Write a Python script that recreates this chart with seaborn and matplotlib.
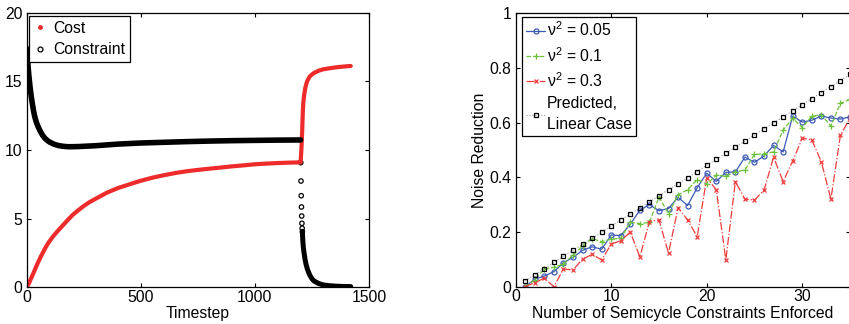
import pandas as pd
import seaborn as sns
import matplotlib.pyplot as plt
from matplotlib.lines import Line2D

# left panel: cost / constraint over timesteps
cost_t = [0, 10, 20, 30, 40, 50, 60, 70, 80, 90, 100, 120, 140, 160, 180, 200, 225, 250, 275, 300,
          350, 400, 450, 500, 550, 600, 650, 700, 750, 800, 850, 900, 950, 1000, 1050, 1100, 1150, 1200,
          1201, 1202, 1203, 1204, 1205, 1206, 1207, 1208, 1209, 1210,
          1212, 1215, 1220, 1225, 1230, 1240, 1250, 1260, 1280, 1300, 1330, 1360, 1390, 1420]
cost_v = [0.0, 0.3, 0.68, 1.05, 1.45, 1.82, 2.17, 2.5, 2.82, 3.1, 3.36, 3.8, 4.18, 4.54, 4.9, 5.25,
          5.6, 5.92, 6.2, 6.43,
          6.88, 7.23, 7.5, 7.76, 7.98, 8.16, 8.32, 8.45, 8.55, 8.64, 8.72, 8.81, 8.88, 8.96, 9.01, 9.05, 9.08, 9.1,
          9.3, 9.55, 9.85, 10.15, 10.5, 10.9, 11.3, 11.8, 12.3, 12.8,
          13.4, 13.9, 14.45, 14.8, 15.05, 15.35, 15.5, 15.62, 15.78, 15.88, 15.96, 16.03, 16.08, 16.12]

con_t = [0, 2, 4, 6, 8, 10, 15, 20, 25, 30, 35, 40, 45, 50, 60, 70, 80, 90, 100, 120, 140, 160, 180,
         200, 225, 250, 300, 350, 400, 450, 500, 600, 700, 800, 900, 1000, 1100, 1200]
con_v = [17.4, 17.2, 16.6, 16.1, 15.7, 15.34, 14.55, 13.88, 13.35, 12.85, 12.45, 12.15, 11.9, 11.7,
         11.35, 11.06, 10.85, 10.7, 10.58, 10.42, 10.32, 10.27, 10.24, 10.24, 10.25, 10.27, 10.31, 10.37,
         10.43, 10.47, 10.51, 10.56, 10.61, 10.65, 10.68, 10.7, 10.72, 10.73]
drop_t = [1201, 1202, 1203, 1204, 1205, 1206, 1207, 1208]
drop_v = [9.08, 7.74, 6.67, 5.85, 5.19, 4.66, 4.3, 4.05]
tail_t = [1208, 1209, 1210, 1212, 1215, 1220, 1225, 1230, 1240, 1250, 1260, 1280, 1300, 1330, 1360, 1390, 1420]
tail_v = [4.05, 3.7, 3.4, 2.95, 2.55, 2.0, 1.62, 1.32, 0.9, 0.62, 0.45, 0.27, 0.17, 0.11, 0.08, 0.06, 0.05]

# right panel: noise reduction vs number of constraints
n_con = list(range(1, 36))
nr_005 = [0.0, 0.028, 0.039, 0.055, 0.088, 0.107, 0.133, 0.146, 0.137, 0.189,
          0.187, 0.229, 0.28, 0.3, 0.278, 0.286, 0.327, 0.297, 0.362, 0.415,
          0.385, 0.418, 0.42, 0.474, 0.455, 0.478, 0.517, 0.493, 0.624, 0.602,
          0.609, 0.624, 0.617, 0.613, 0.621]
nr_01 = [0.0, 0.025, 0.065, 0.071, 0.083, 0.115, 0.149, 0.176, 0.165, 0.174,
         0.177, 0.236, 0.231, 0.235, 0.328, 0.267, 0.336, 0.355, 0.392, 0.375,
         0.408, 0.404, 0.42, 0.427, 0.484, 0.486, 0.493, 0.573, 0.616, 0.582,
         0.624, 0.628, 0.588, 0.671, 0.685]
nr_03 = [0.0, 0.015, 0.031, 0.0, 0.065, 0.061, 0.101, 0.118, 0.098, 0.156,
         0.168, 0.2, 0.109, 0.238, 0.244, 0.123, 0.289, 0.244, 0.183, 0.398,
         0.355, 0.098, 0.384, 0.32, 0.317, 0.353, 0.474, 0.384, 0.46, 0.543,
         0.537, 0.457, 0.32, 0.555, 0.616]
nr_pred = [0.022, 0.044, 0.066, 0.089, 0.111, 0.133, 0.155, 0.177, 0.199, 0.222,
           0.244, 0.266, 0.288, 0.31, 0.333, 0.355, 0.377, 0.399, 0.421, 0.444,
           0.466, 0.488, 0.51, 0.532, 0.555, 0.577, 0.599, 0.621, 0.643, 0.666,
           0.688, 0.71, 0.732, 0.754, 0.777]

legend_right = [r'$\nu^2$ = 0.05', r'$\nu^2$ = 0.1', r'$\nu^2$ = 0.3', 'Predicted,\nLinear Case']
left_xticks = [0, 500, 1000, 1500]
left_yticks = [0, 5, 10, 15, 20]
right_xticks = [0, 10, 20, 30]
right_yticks = [0, 0.2, 0.4, 0.6, 0.8, 1.0]
right_yticklabels = ['0', '0.2', '0.4', '0.6', '0.8', '1']

RED = '#ee2b2b'
BLUE = '#3c5ab4'
GREEN = '#6cc23c'
RED2 = '#f03c3c'
FS = 11.3

sns.set_style('ticks')
plt.rcParams['font.family'] = ['Liberation Sans', 'DejaVu Sans']
plt.rcParams.update({
    'mathtext.default': 'regular',
    'font.size': FS,
    'axes.edgecolor': 'black',
    'axes.linewidth': 0.9,
    'xtick.color': 'black',
    'ytick.color': 'black',
    'text.color': 'black',
    'axes.labelcolor': 'black',
})

fig = plt.figure(figsize=(8.49, 3.24), dpi=100)
ax1 = fig.add_axes([26.7 / 849, 1 - 287.3 / 324, (369 - 26.7) / 849, (287.3 - 12.7) / 324])
ax2 = fig.add_axes([515.7 / 849, 1 - 286.7 / 324, (850 - 515.7) / 849, (286.7 - 13.3) / 324])

# ---- left panel
cost_df = pd.DataFrame({'t': cost_t, 'v': cost_v})
con_df = pd.DataFrame({'t': con_t, 'v': con_v})
drop_df = pd.DataFrame({'t': drop_t, 'v': drop_v})
tail_df = pd.DataFrame({'t': tail_t, 'v': tail_v})

sns.lineplot(data=cost_df, x='t', y='v', color=RED, lw=3.0, estimator=None, sort=False, ax=ax1)
sns.lineplot(data=con_df, x='t', y='v', color='black', lw=4.0, estimator=None, sort=False, ax=ax1)
sns.lineplot(data=tail_df, x='t', y='v', color='black', lw=3.6, estimator=None, sort=False, ax=ax1)
sns.scatterplot(data=drop_df, x='t', y='v', marker='o', s=10, facecolor='none',
                edgecolor='black', linewidth=0.9, ax=ax1)

ax1.set_xlim(0, 1500)
ax1.set_ylim(0, 20)
ax1.set_xticks(left_xticks)
ax1.set_xticklabels([str(v) for v in left_xticks])
ax1.set_yticks(left_yticks)
ax1.set_yticklabels([str(v) for v in left_yticks])
ax1.set_xlabel('Timestep', labelpad=1)
ax1.set_ylabel('')

h_left = [Line2D([], [], ls='none', marker='o', ms=2.5, color=RED),
          Line2D([], [], ls='none', marker='o', ms=3.5, mfc='none', mec='black', mew=0.9)]
leg1 = ax1.legend(h_left, ['Cost', 'Constraint'], loc='upper left', bbox_to_anchor=(0.0076, 0.988),
                  borderaxespad=0, fancybox=False, edgecolor='black', framealpha=1,
                  handlelength=0.8, handletextpad=0.4, borderpad=0.3, labelspacing=0.42)
leg1.get_frame().set_linewidth(0.9)

# ---- right panel
sns.lineplot(x=n_con, y=nr_005, color=BLUE, lw=0.9, marker='o', markersize=3.6,
             markerfacecolor='none', markeredgecolor=BLUE, markeredgewidth=0.9,
             label=legend_right[0], ax=ax2)
sns.lineplot(x=n_con, y=nr_01, color=GREEN, lw=0.9, linestyle='--', marker='+', markersize=4.2,
             markeredgecolor=GREEN, markeredgewidth=0.9, label=legend_right[1], ax=ax2)
sns.lineplot(x=n_con, y=nr_03, color=RED2, lw=0.9, linestyle='-.', marker='x', markersize=3.0,
             markeredgecolor=RED2, markeredgewidth=0.9, label=legend_right[2], ax=ax2)
sns.lineplot(x=n_con, y=nr_pred, color='#9a9a9a', lw=0.8, linestyle=':', marker='s', markersize=3.4,
             markerfacecolor='none', markeredgecolor='black', markeredgewidth=0.9,
             label=legend_right[3], ax=ax2)

ax2.set_xlim(0, 35)
ax2.set_ylim(0, 1)
ax2.set_xticks(right_xticks)
ax2.set_xticklabels([str(v) for v in right_xticks])
ax2.set_yticks(right_yticks)
ax2.set_yticklabels(right_yticklabels)
ax2.set_xlabel('Number of Semicycle Constraints Enforced', labelpad=1)
ax2.set_ylabel('Noise Reduction', labelpad=2)

leg2 = ax2.legend(loc='upper left', bbox_to_anchor=(0.0197, 0.9876), borderaxespad=0,
                  fancybox=False, edgecolor='black', framealpha=1,
                  handlelength=1.2, handletextpad=0.12, borderpad=0.25, labelspacing=0.42)
leg2.get_frame().set_linewidth(0.9)
for txt in leg2.get_texts():
    txt.set_linespacing(1.45)

for ax in (ax1, ax2):
    ax.tick_params(direction='in', length=3, width=0.8, top=True, right=True, labelsize=FS)
    ax.tick_params(axis='x', pad=2)
    ax.tick_params(axis='y', pad=3)
    for sp in ax.spines.values():
        sp.set_visible(True)
        sp.set_color('black')

fig.savefig('out.png', dpi=100)
